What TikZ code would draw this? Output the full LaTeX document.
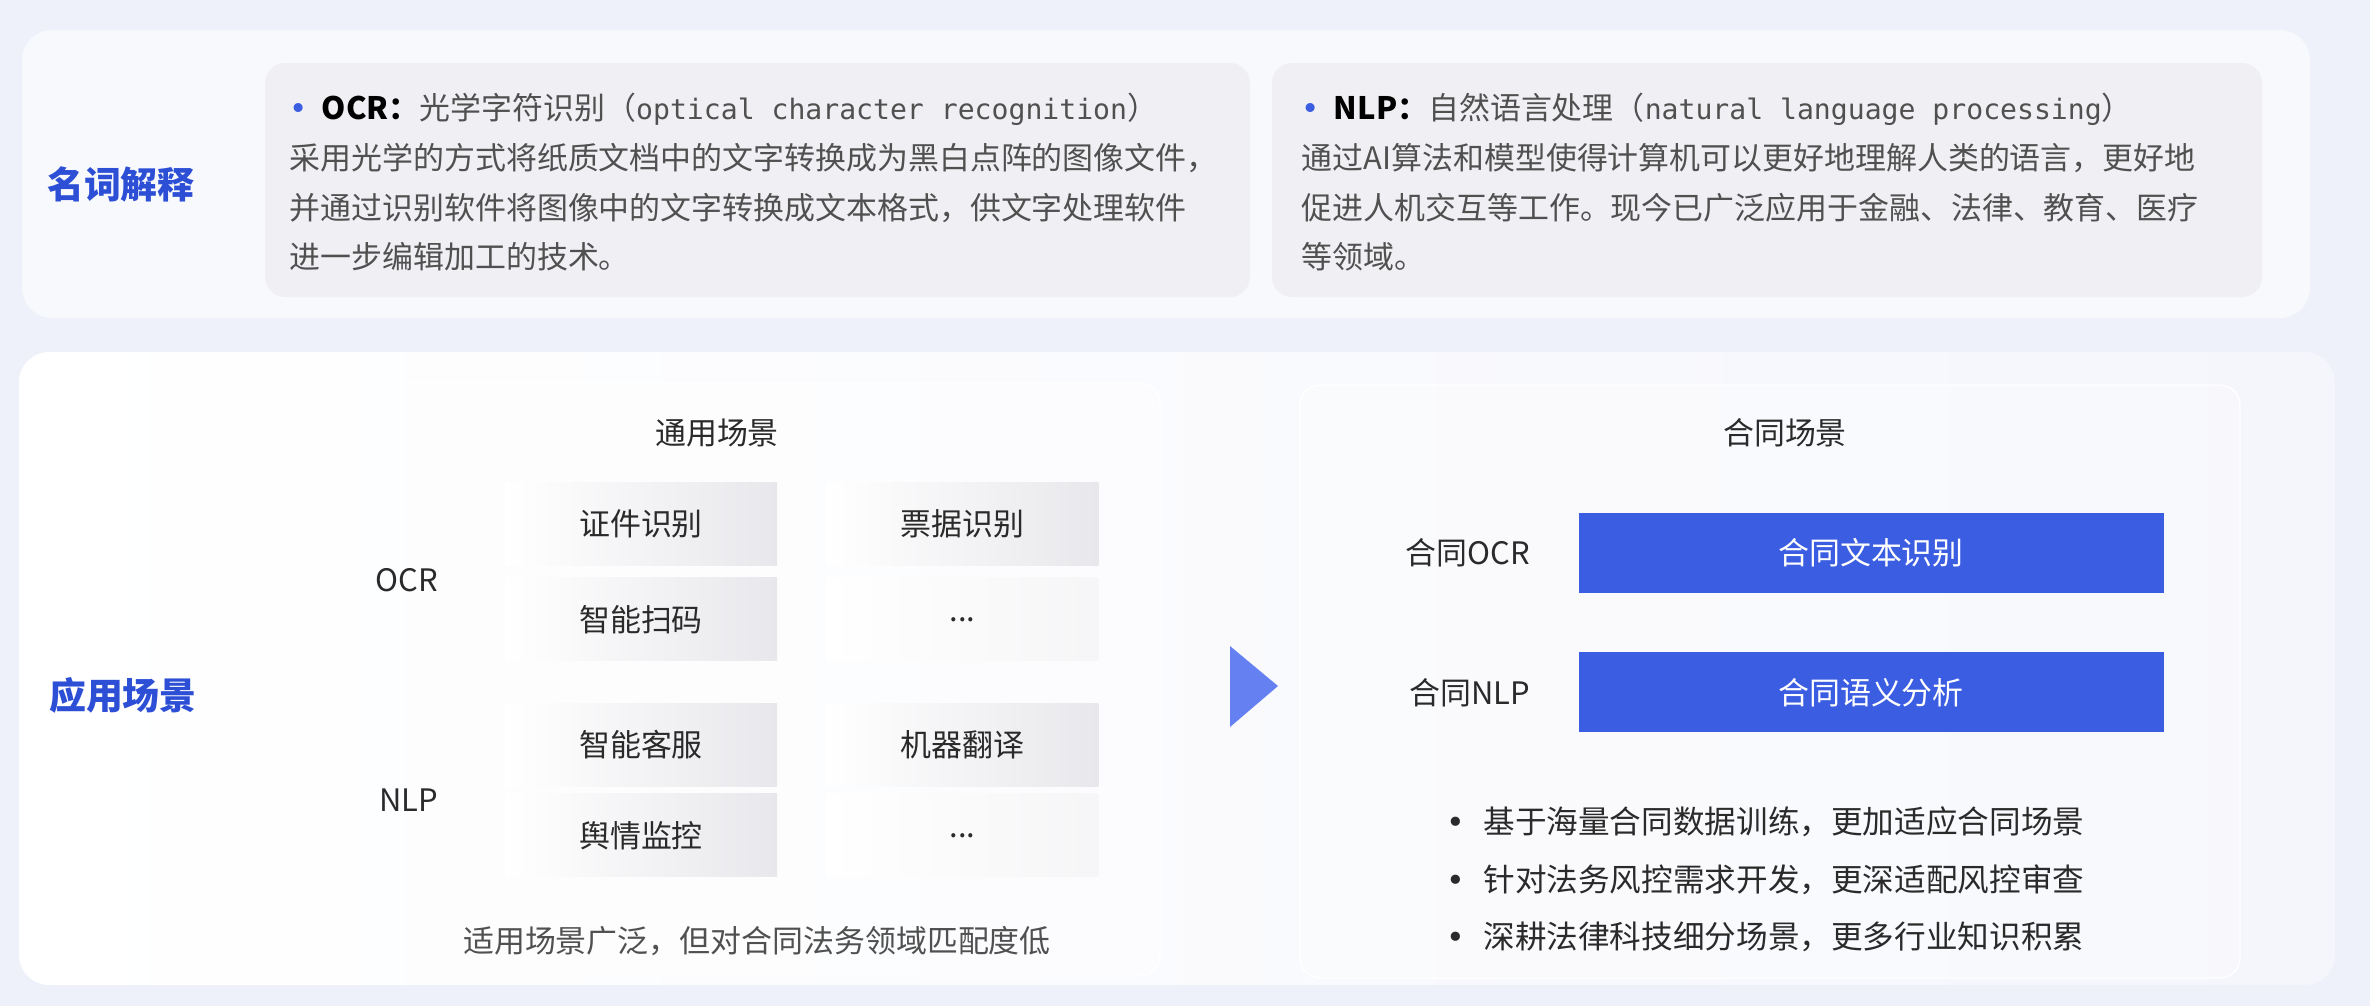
\documentclass[tikz,border=0pt]{standalone}
\usepackage{fontspec}
\setmainfont{Noto Sans CJK SC}
\newfontfamily\monofont{DejaVu Sans Mono}
\newfontfamily\dotfont{DejaVu Sans}
\usetikzlibrary{positioning}
\definecolor{bgpage}{HTML}{EEF0FA}
\definecolor{ctblue}{HTML}{3B5DE2}
\definecolor{titleblue}{HTML}{2C4FD6}
\definecolor{arrowblue}{HTML}{6580F0}
\definecolor{txtgray}{HTML}{505050}
\definecolor{txtdark}{HTML}{2A2A2A}
\definecolor{cellgray}{HTML}{E8E8EC}
\definecolor{boxgray}{HTML}{F0F0F4}
\newcommand{\ctdot}{{\dotfont•}}
\tikzset{
  sectitle/.style={font=\fontsize{10.5pt}{12pt}\selectfont\bfseries, text=titleblue},
  bodytext/.style={font=\fontsize{8.8pt}{14.2pt}\selectfont, text=txtgray, align=left, inner sep=0pt},
  plainlabel/.style={font=\fontsize{8.8pt}{10pt}\selectfont, text=txtdark, inner sep=0pt},
  cell/.style={minimum width=27.2mm, minimum height=8.3mm, inner sep=0pt,
    left color=white, right color=cellgray, font=\fontsize{8.8pt}{10pt}\selectfont, text=txtdark},
  bluebox/.style={fill=ctblue, minimum width=58.5mm, minimum height=8mm, inner sep=0pt,
    font=\fontsize{8.8pt}{10pt}\selectfont, text=white}
}
\begin{document}
\begin{tikzpicture}[x=0.1mm,y=-0.1mm]
  \fill[bgpage] (0,0) rectangle (2370,1006);
  \useasboundingbox (0,0) rectangle (2370,1006);
  % panels
  \fill[white,opacity=.6,rounded corners=3mm] (22,30) rectangle (2310,318);
  \fill[boxgray,rounded corners=2mm] (265,63) rectangle (1250,297);
  \fill[boxgray,rounded corners=2mm] (1272,63) rectangle (2262,297);
  \shade[left color=white,right color=bgpage!60!white,rounded corners=3mm] (19,352) rectangle (2335,985);
  \draw[white,fill=white,fill opacity=.4,rounded corners=2mm] (265,383) rectangle (1160,976);
  \draw[white,fill=white,fill opacity=.3,rounded corners=2mm] (1300,385) rectangle (2240,978);

  % terms
  \node[sectitle] (termtitle) at (121,184) {名词解释};
  \node[bodytext, anchor=north west] (ocrdef) at (289,92)
    {\textcolor{ctblue}{\ctdot}\hspace{1.4mm}{\bfseries\color{black}OCR：}光学字符识别（{\monofont\fontsize{8pt}{14.2pt}\selectfont optical character recognition}）\\
     采用光学的方式将纸质文档中的文字转换成为黑白点阵的图像文件，\\
     并通过识别软件将图像中的文字转换成文本格式，供文字处理软件\\
     进一步编辑加工的技术。};
  \node[bodytext, anchor=north west] (nlpdef) at (1301,92)
    {\textcolor{ctblue}{\ctdot}\hspace{1.4mm}{\bfseries\color{black}NLP：}自然语言处理（{\monofont\fontsize{8pt}{14.2pt}\selectfont natural language processing}）\\
     通过AI算法和模型使得计算机可以更好地理解人类的语言，更好地\\
     促进人机交互等工作。现今已广泛应用于金融、法律、教育、医疗\\
     等领域。};

  % general scenes
  \node[sectitle] (scenetitle) at (123,695) {应用场景};
  \node[plainlabel] (general) at (717,433) {通用场景};
  \node[plainlabel] (ocrlabel) at (407,580) {OCR};
  \node[plainlabel] (nlplabel) at (409,800) {NLP};
  \node[cell] (idcard) at (641,524) {证件识别};
  \node[cell, below=1.1mm of idcard] (scan) {智能扫码};
  \node[cell, right=4.8mm of idcard] (bill) {票据识别};
  \node[cell, right color=cellgray!40, right=4.8mm of scan] (ocrmore) {...};
  \node[cell] (service) at (641,745) {智能客服};
  \node[cell, below=0.6mm of service] (opinion) {舆情监控};
  \node[cell, right=4.8mm of service] (translate) {机器翻译};
  \node[cell, right color=cellgray!40, right=4.8mm of opinion] (nlpmore) {...};
  \node[plainlabel, text=txtgray] (weakfit) at (757,941) {适用场景广泛，但对合同法务领域匹配度低};

  % arrow
  \fill[arrowblue] (1230,646) -- (1278,686) -- (1230,727) -- cycle;

  % contract scenes
  \node[plainlabel] (contract) at (1785,433) {合同场景};
  \node[bluebox] (ocrbox) at (1871,553) {合同文本识别};
  \node[bluebox, below=5.8mm of ocrbox] (nlpbox) {合同语义分析};
  \node[plainlabel, left=4.7mm of ocrbox] (ctocr) {合同OCR};
  \node[plainlabel, left=4.7mm of nlpbox] (ctnlp) {合同NLP};
  \node[bodytext, text=txtdark, anchor=north west, font=\fontsize{9pt}{16.4pt}\selectfont] (merits) at (1446,806)
    {\ctdot\hspace{1.8mm}基于海量合同数据训练，更加适应合同场景\\
     \ctdot\hspace{1.8mm}针对法务风控需求开发，更深适配风控审查\\
     \ctdot\hspace{1.8mm}深耕法律科技细分场景，更多行业知识积累};
\end{tikzpicture}
\end{document}
